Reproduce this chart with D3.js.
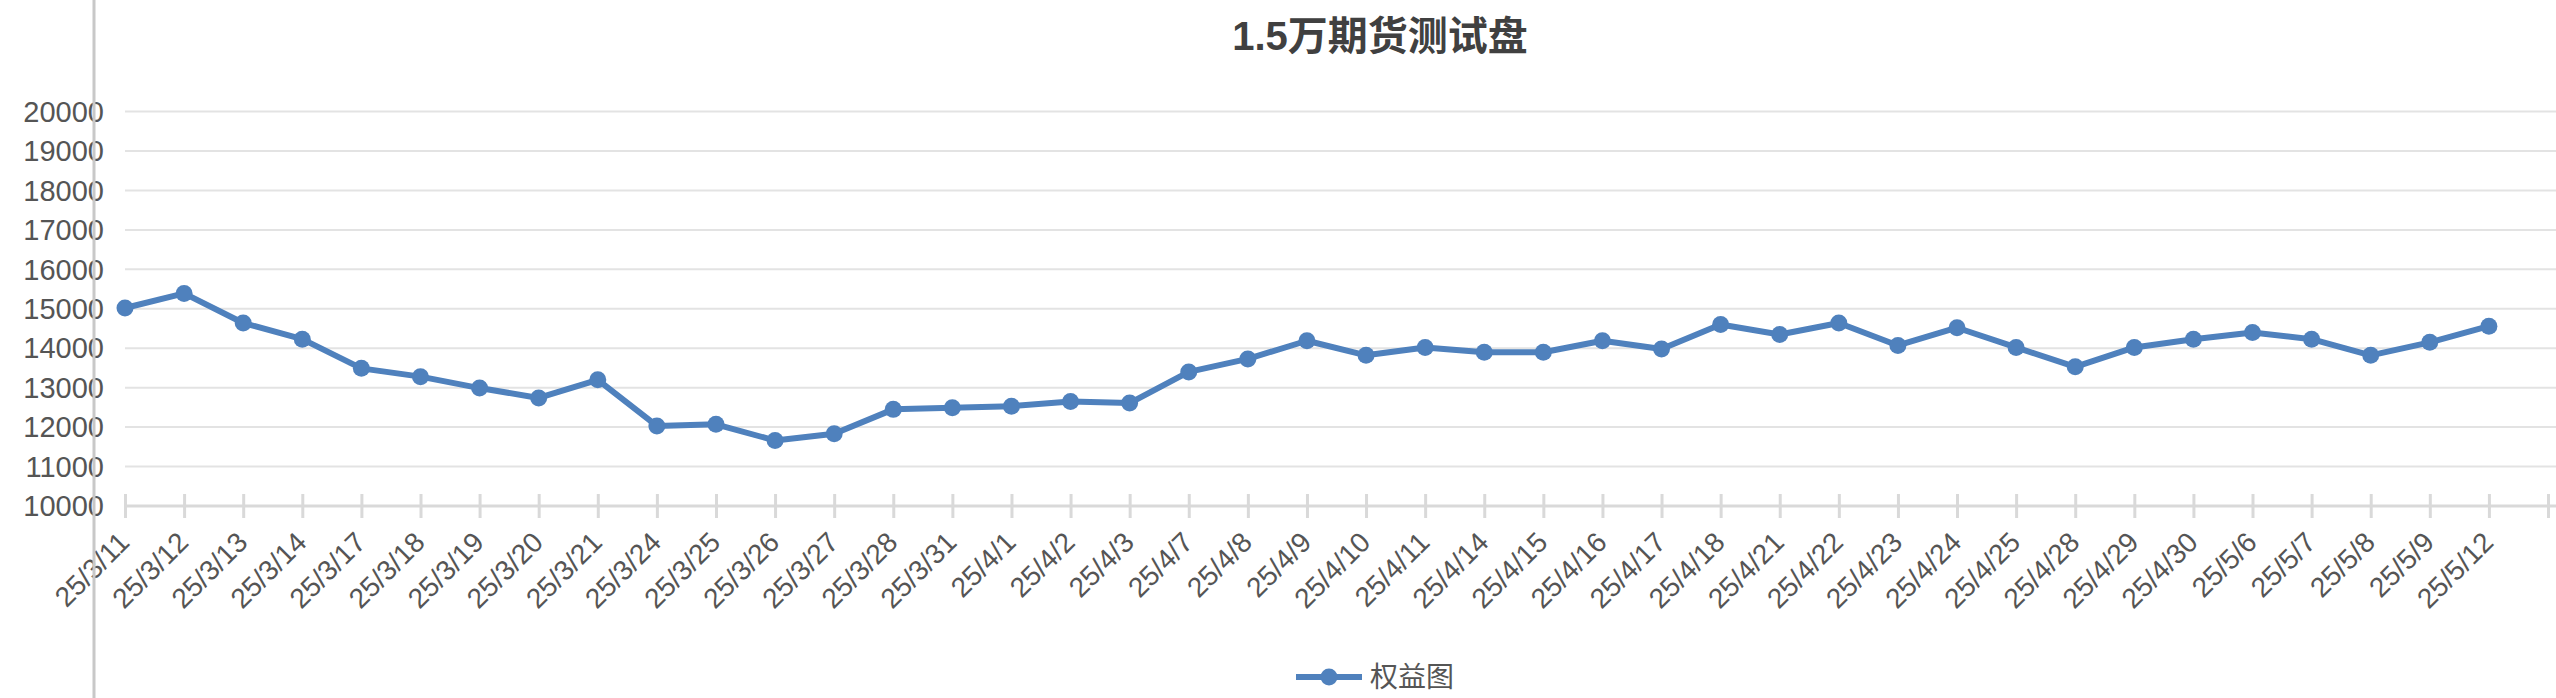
<!DOCTYPE html>
<html lang="zh">
<head>
<meta charset="UTF-8">
<title>1.5万期货测试盘</title>
<script src="https://d3js.org/d3.v7.min.js"></script>
<style>
  body { margin: 0; padding: 0; background: #fff; }
  svg { display: block; font-family: "Liberation Sans", Arial, sans-serif; }
</style>
</head>
<body>
<div id="chart"></div>
<script>
const dates = ["25/3/11","25/3/12","25/3/13","25/3/14","25/3/17","25/3/18","25/3/19","25/3/20","25/3/21","25/3/24",
  "25/3/25","25/3/26","25/3/27","25/3/28","25/3/31","25/4/1","25/4/2","25/4/3","25/4/7","25/4/8",
  "25/4/9","25/4/10","25/4/11","25/4/14","25/4/15","25/4/16","25/4/17","25/4/18","25/4/21","25/4/22",
  "25/4/23","25/4/24","25/4/25","25/4/28","25/4/29","25/4/30","25/5/6","25/5/7","25/5/8","25/5/9","25/5/12"];
const equity = [15020,15390,14640,14230,13490,13280,12990,12740,13200,12030,
  12070,11660,11830,12450,12490,12530,12650,12610,13400,13730,
  14190,13820,14020,13900,13900,14190,13980,14600,14350,14640,
  14070,14520,14020,13530,14020,14230,14400,14230,13820,14150,14560];
const yTicks = [10000,11000,12000,13000,14000,15000,16000,17000,18000,19000,20000];

const width = 2556, height = 698;
const svg = d3.select("#chart").append("svg").attr("width", width).attr("height", height);

const x = d3.scaleLinear().domain([0, dates.length]).range([125, 2548]);
const y = d3.scaleLinear().domain([10000, 20000]).range([506, 111.6]);

// gridlines
svg.append("g").selectAll("line").data(yTicks.slice(1)).join("line")
  .attr("x1", 125).attr("x2", width).attr("y1", d => y(d)).attr("y2", d => y(d))
  .attr("stroke", "#e3e3e3").attr("stroke-width", 2);

// y labels
svg.append("g").selectAll("text").data(yTicks).join("text")
  .attr("x", 104).attr("y", d => y(d)).attr("dy", "0.35em")
  .attr("text-anchor", "end").attr("font-size", 29).attr("fill", "#555")
  .text(d => d);

// x axis
const xAxis = d3.axisBottom(x).tickValues(d3.range(dates.length + 1))
  .tickSize(12).tickFormat(() => "");
const gx = svg.append("g").attr("transform", "translate(0,506)").call(xAxis);
gx.select(".domain").attr("stroke", "#d9d9d9").attr("stroke-width", 3)
  .attr("d", `M125,0H${width}`);
gx.selectAll(".tick line").attr("stroke", "#d9d9d9").attr("stroke-width", 3).attr("y1", -12);

svg.append("g").selectAll("text").data(dates).join("text")
  .attr("transform", (d, i) => `translate(${x(i) + 6},${y(10000) + 38}) rotate(-45)`)
  .attr("text-anchor", "end").attr("font-size", 28).attr("fill", "#555")
  .text(d => d);

// left frame line
svg.append("line").attr("x1", 94).attr("x2", 94).attr("y1", 0).attr("y2", height)
  .attr("stroke", "#c8c8c8").attr("stroke-width", 3);

// series
const line = d3.line().x((d, i) => x(i)).y(d => y(d));
svg.append("path").datum(equity).attr("d", line)
  .attr("fill", "none").attr("stroke", "#4f81bd").attr("stroke-width", 6).attr("stroke-linejoin", "round");
svg.append("g").selectAll("circle").data(equity).join("circle")
  .attr("cx", (d, i) => x(i)).attr("cy", d => y(d)).attr("r", 8.5).attr("fill", "#4f81bd");

// title
svg.append("text").attr("x", 1380).attr("y", 50).attr("text-anchor", "middle")
  .attr("font-size", 40).attr("font-weight", "bold").attr("fill", "#404040")
  .attr("font-family", "'Liberation Sans', 'Noto Sans CJK SC', sans-serif")
  .text("1.5万期货测试盘");

// legend
const lg = svg.append("g").attr("transform", "translate(0,677)");
lg.append("line").attr("x1", 1296).attr("x2", 1362).attr("y1", 0).attr("y2", 0)
  .attr("stroke", "#4f81bd").attr("stroke-width", 6);
lg.append("circle").attr("cx", 1329).attr("cy", 0).attr("r", 8.5).attr("fill", "#4f81bd");
lg.append("text").attr("x", 1370).attr("y", 0).attr("dy", "0.35em")
  .attr("font-size", 28).attr("fill", "#555")
  .attr("font-family", "'Noto Sans CJK SC', sans-serif").text("权益图");
</script>
</body>
</html>
